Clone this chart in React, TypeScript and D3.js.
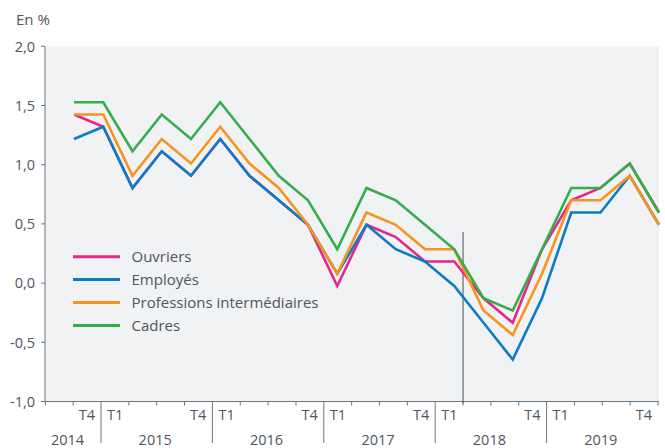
import React from "react";
import * as d3 from "d3";

// Quarters 2014 T4 -> 2019 T4
const quarters = [
  "2014 T4",
  "2015 T1", "2015 T2", "2015 T3", "2015 T4",
  "2016 T1", "2016 T2", "2016 T3", "2016 T4",
  "2017 T1", "2017 T2", "2017 T3", "2017 T4",
  "2018 T1", "2018 T2", "2018 T3", "2018 T4",
  "2019 T1", "2019 T2", "2019 T3", "2019 T4",
];

const ouvriers = [1.4, 1.3, 0.8, 1.1, 0.9, 1.2, 0.9, 0.7, 0.5, 0.0, 0.5, 0.4, 0.2, 0.2, -0.1, -0.3, 0.3, 0.7, 0.8, 1.0, 0.6];
const employes = [1.2, 1.3, 0.8, 1.1, 0.9, 1.2, 0.9, 0.7, 0.5, 0.1, 0.5, 0.3, 0.2, 0.0, -0.3, -0.6, -0.1, 0.6, 0.6, 0.9, 0.5];
const professions = [1.4, 1.4, 0.9, 1.2, 1.0, 1.3, 1.0, 0.8, 0.5, 0.1, 0.6, 0.5, 0.3, 0.3, -0.2, -0.4, 0.1, 0.7, 0.7, 0.9, 0.5];
const cadres = [1.5, 1.5, 1.1, 1.4, 1.2, 1.5, 1.2, 0.9, 0.7, 0.3, 0.8, 0.7, 0.5, 0.3, -0.1, -0.2, 0.3, 0.8, 0.8, 1.0, 0.6];

const seriesNames = ["Ouvriers", "Employés", "Professions intermédiaires", "Cadres"];
const seriesColors = ["#e2288c", "#0b7dc4", "#f7931e", "#36ad4b"];

const yTicks = [-1, -0.5, 0, 0.5, 1, 1.5, 2];
const years = ["2014", "2015", "2016", "2017", "2018", "2019"];
// slot index (in tick-slot units) of each year block [start, end]
const yearSlots = [[0, 2], [2, 6], [6, 10], [10, 14], [14, 18], [18, 22]];
const quarterLabels = [
  { slot: 1, text: "T4", anchor: "end" },
  { slot: 2, text: "T1", anchor: "start" }, { slot: 5, text: "T4", anchor: "end" },
  { slot: 6, text: "T1", anchor: "start" }, { slot: 9, text: "T4", anchor: "end" },
  { slot: 10, text: "T1", anchor: "start" }, { slot: 13, text: "T4", anchor: "end" },
  { slot: 14, text: "T1", anchor: "start" }, { slot: 17, text: "T4", anchor: "end" },
  { slot: 18, text: "T1", anchor: "start" }, { slot: 21, text: "T4", anchor: "end" },
];
const markerSlot = 15; // vertical marker line after 2018 T1

const W = 665;
const H = 448;
const FONT = "'Open Sans', Lato, sans-serif";
const TEXT = "#4f565e";
const AXIS = "#6d747c";

export default function App() {
  const left = 45;
  const right = 659;
  const top = 46.3;
  const bottom = 401.5;

  // axis scales
  const yAxis = d3.scaleLinear().domain([-1, 2]).range([bottom, top]);
  const xSlot = d3.scaleLinear().domain([0, 22]).range([left + 0.3, 658]);

  // series scales (as placed in the source graphic)
  const xLine = d3.scaleLinear().domain([0, quarters.length - 1]).range([74, 659]);
  const yLine = d3.scaleLinear().domain([-1, 2]).range([408.5, 41]);

  const line = d3
    .line<number>()
    .x((_, i) => xLine(i))
    .y((d) => yLine(d));

  const allSeries = [ouvriers, employes, professions, cadres];

  const separators = [2, 6, 10, 14, 18];
  const minorSlots = d3.range(0, 23).filter((s) => !separators.includes(s));

  const legendY0 = 256.7;
  const legendStep = 22.9;

  return (
    <svg
      width={W}
      height={H}
      style={{ position: "absolute", left: 0, top: 0, background: "#fff" }}
      fontFamily={FONT}
    >
      <text x={16} y={25} fontSize={15} fill={TEXT}>
        En %
      </text>

      <rect x={left} y={top} width={right - left} height={bottom - top} fill="#f0f2f4" />

      {/* y axis */}
      <line x1={left} x2={left} y1={top} y2={bottom} stroke={AXIS} strokeWidth={1} />
      {yTicks.map((t) => (
        <g key={t}>
          <line x1={left - 4} x2={left} y1={yAxis(t)} y2={yAxis(t)} stroke={AXIS} strokeWidth={1} />
          <text
            x={35}
            y={yAxis(t)}
            dy="0.36em"
            textAnchor="end"
            fontSize={14.5}
            fill={TEXT}
          >
            {d3.format(".1f")(t).replace(".", ",").replace("−", "-")}
          </text>
        </g>
      ))}

      {/* x axis */}
      <line x1={left} x2={right} y1={bottom} y2={bottom} stroke={AXIS} strokeWidth={1} />
      {minorSlots.map((s) => (
        <line
          key={"m" + s}
          x1={xSlot(s)}
          x2={xSlot(s)}
          y1={bottom}
          y2={bottom + 4}
          stroke={AXIS}
          strokeWidth={1}
        />
      ))}
      {separators.map((s) => (
        <line
          key={"s" + s}
          x1={xSlot(s)}
          x2={xSlot(s)}
          y1={bottom}
          y2={443}
          stroke={AXIS}
          strokeWidth={1}
        />
      ))}
      {quarterLabels.map((q, i) => (
        <text
          key={"q" + i}
          x={q.anchor === "end" ? xSlot(q.slot + 1) - 6 : xSlot(q.slot) + 6}
          y={420}
          textAnchor={q.anchor}
          fontSize={14.5}
          fill={TEXT}
        >
          {q.text}
        </text>
      ))}
      {years.map((y, i) => {
        const [a, b] = yearSlots[i];
        const cx = i === 0 ? 67.5 : (xSlot(a) + xSlot(b)) / 2 - 1.5;
        return (
          <text key={y} x={cx} y={445} textAnchor="middle" fontSize={14.5} fill={TEXT}>
            {y}
          </text>
        );
      })}

      {/* vertical marker */}
      <line
        x1={xSlot(markerSlot)}
        x2={xSlot(markerSlot)}
        y1={232}
        y2={bottom + 2}
        stroke="#4a5058"
        strokeWidth={1}
      />

      {/* series */}
      {allSeries.map((s, i) => (
        <path
          key={seriesNames[i]}
          d={line(s) || ""}
          fill="none"
          stroke={seriesColors[i]}
          strokeWidth={2.6}
          strokeLinejoin="miter"
        />
      ))}

      {/* legend */}
      {seriesNames.map((n, i) => (
        <g key={"l" + n}>
          <line
            x1={73}
            x2={120}
            y1={legendY0 + i * legendStep}
            y2={legendY0 + i * legendStep}
            stroke={seriesColors[i]}
            strokeWidth={3}
          />
          <text
            x={131.5}
            y={legendY0 + i * legendStep}
            dy="0.36em"
            fontSize={15}
            fill={TEXT}
          >
            {n}
          </text>
        </g>
      ))}
    </svg>
  );
}
